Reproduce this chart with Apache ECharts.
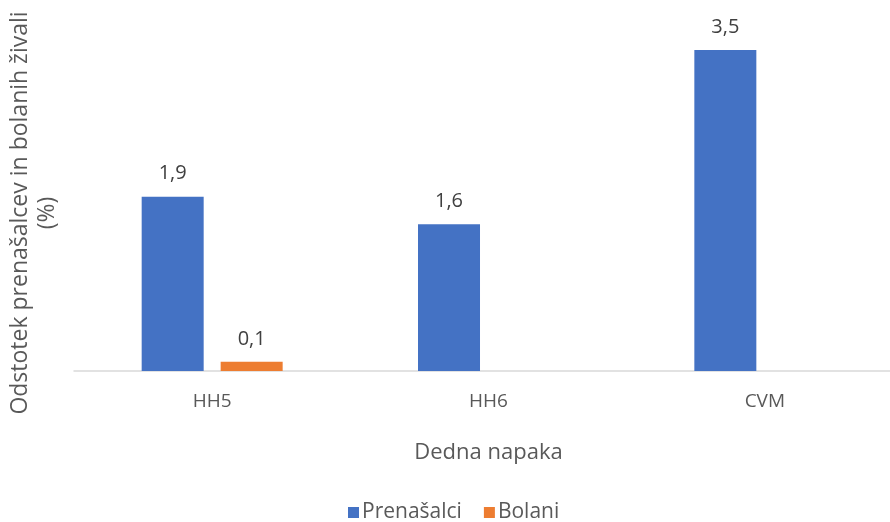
<!DOCTYPE html>
<html>
<head>
<meta charset="utf-8">
<script src="https://cdn.jsdelivr.net/npm/echarts@6/dist/echarts.min.js"></script>
<style>
  html, body { margin: 0; padding: 0; background: #fff; overflow: hidden; width: 890px; height: 522px; }
  /* the plot area runs a little past the right edge of the page */
  #chart { width: 903px; height: 522px; }
</style>
</head>
<body>
<div id="chart"></div>
<script>
// Deleži prenašalcev in bolanih živali po dedni napaki
const categories = ['HH5', 'HH6', 'CVM'];
const prenasalci = [1.9, 1.6, 3.5];
const bolani = [0.1, null, null];
const seriesNames = ['Prenašalci', 'Bolani'];
const xTitle = 'Dedna napaka';
const yTitle = 'Odstotek prenašalcev in bolanih živali\n(%)';

const FONT = '"Open Sans", "Noto Sans", sans-serif';
const fmt = v => String(v.value).replace('.', ',');

const chart = echarts.init(document.getElementById('chart'));
chart.setOption({
  animation: false,
  textStyle: { fontFamily: FONT },
  grid: { left: 74, top: 4, right: 0, bottom: 151, containLabel: false },
  legend: {
    data: seriesNames,
    top: 497,
    left: 343,
    itemWidth: 11,
    itemHeight: 11,
    itemGap: 22,
    icon: 'rect',
    textStyle: { fontFamily: FONT, fontSize: 21, color: '#595959', padding: [0, 0, 0, -2] }
  },
  xAxis: {
    type: 'category',
    data: categories,
    name: xTitle,
    nameLocation: 'middle',
    nameGap: 71,
    nameTextStyle: { fontFamily: FONT, fontSize: 22, color: '#595959' },
    axisLine: { lineStyle: { color: '#d9d9d9', width: 1.5 } },
    axisTick: { show: false },
    axisLabel: { fontFamily: FONT, fontSize: 19, color: '#595959', margin: 21 }
  },
  yAxis: {
    type: 'value',
    min: 0,
    max: 4,
    show: false,
    splitLine: { show: false }
  },
  graphic: [{
    type: 'text',
    x: 34,
    y: 213,
    rotation: Math.PI / 2,
    style: {
      text: yTitle,
      fontFamily: FONT,
      fontSize: 23,
      lineHeight: 27,
      fill: '#595959',
      align: 'center',
      verticalAlign: 'middle'
    }
  }],
  series: [
    {
      name: seriesNames[0],
      type: 'bar',
      data: prenasalci,
      barWidth: 62,
      barGap: '27.4%',
      itemStyle: { color: '#4472c4' },
      label: { show: true, position: 'top', distance: 13, formatter: fmt,
        fontFamily: FONT, fontSize: 20, color: '#404040' }
    },
    {
      name: seriesNames[1],
      type: 'bar',
      data: bolani,
      barWidth: 62,
      itemStyle: { color: '#ed7d31' },
      label: { show: true, position: 'top', distance: 13, formatter: fmt,
        fontFamily: FONT, fontSize: 20, color: '#404040' }
    }
  ]
});
</script>
</body>
</html>
